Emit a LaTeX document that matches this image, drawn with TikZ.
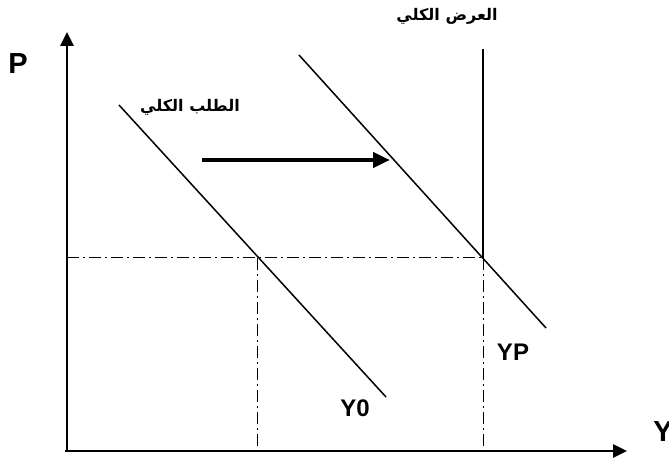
\documentclass[tikz,border=0pt]{standalone}
\usepackage{fontspec}
\setmainfont{Liberation Sans}
\newfontfamily\arabicfont[Script=Arabic]{DejaVu Sans}
\TeXXeTstate=1
\usetikzlibrary{arrows.meta}
\tikzset{
  axis/.style={line width=2.6pt, -{Triangle[length=14pt,width=13pt]}},
  curve/.style={line width=1.5pt},
  guide/.style={line width=1pt, dash pattern=on 12pt off 4pt on 2pt off 4pt},
  lbl/.style={font=\bfseries\fontsize{24}{28}\selectfont},
  big/.style={font=\bfseries\fontsize{29}{33}\selectfont},
  albl/.style={font=\arabicfont\bfseries\fontsize{16}{19}\selectfont}
}
\begin{document}
\begin{tikzpicture}[x=1pt, y=-1pt]
  \useasboundingbox (0,0) rectangle (669,462);

  % Axes
  \draw[axis] (65,451) -- (627,451);
  \draw[axis] (67,452) -- (67,32);
  \node[big] (p) at (18,64) {P};
  \node[big] (y) at (663,432) {Y};

  % Guide lines
  \coordinate (e0) at (257,258);
  \coordinate (ep) at (483,258);
  \draw[guide] (67,258) -- (ep);
  \draw[guide] (e0) -- (257,451);
  \draw[guide] (ep) -- (483,451);

  % Aggregate supply
  \draw[curve] (483,49) -- (ep);
  \node[albl] (as) at (447,16) {\beginR العرض الكلي\endR};

  % Aggregate demand, old and new
  \draw[curve] (119,105) -- (386,397);
  \draw[curve] (299,55) -- (546,328);
  \node[albl] (ad) at (190,107) {\beginR الطلب الكلي\endR};

  % Shift
  \draw[line width=4.5pt, -{Triangle[length=17pt,width=15pt]}] (202,160) -- (390,160);

  % Output levels
  \node[lbl] (y0) at (355,408) {Y0};
  \node[lbl] (yp) at (513,352) {YP};
\end{tikzpicture}
\end{document}
